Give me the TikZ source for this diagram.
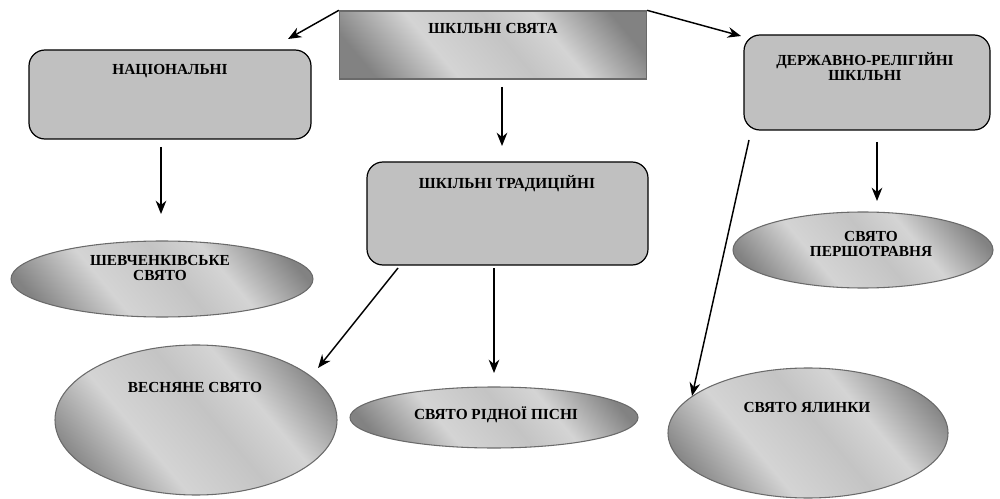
\documentclass[tikz,border=0pt]{standalone}
\usepackage{fontspec}
\setmainfont{Liberation Serif}
\usetikzlibrary{shapes.geometric,arrows.meta}
\definecolor{boxgray}{HTML}{C0C0C0}
\definecolor{metdark}{HTML}{828282}
\definecolor{metlight}{HTML}{D4D4D4}
\definecolor{metmid}{HTML}{C4C4C4}
\definecolor{edgegray}{HTML}{6A6A6A}
\pgfdeclarehorizontalshading{chrome}{100bp}{color(0bp)=(metdark); color(22bp)=(metdark); color(38bp)=(metlight); color(53bp)=(metmid); color(63bp)=(metlight); color(78bp)=(metdark); color(100bp)=(metdark)}
\tikzset{
  metal/.style={shading=chrome, shading angle=40},
  topbox/.style={rectangle, metal, draw=edgegray, line width=1pt, inner sep=0pt},
  rbox/.style={rectangle, rounded corners=12pt, fill=boxgray, draw=black, line width=0.9pt, inner sep=0pt},
  oval/.style={ellipse, metal, draw=edgegray, line width=0.8pt, inner sep=0pt},
  lbl/.style={font=\fontsize{11.5}{11.8}\selectfont\bfseries, align=center, inner sep=0pt},
  arr/.style={-{Stealth[length=10pt,width=8pt]}, line width=1.1pt, black}
}
\begin{document}
\begin{tikzpicture}[x=0.75pt,y=-0.75pt]
\useasboundingbox (0,0) rectangle (1000,499);
% shapes
\node[topbox, minimum width=307*0.75pt, minimum height=68*0.75pt] (top) at (493,45) {};
\node[rbox, minimum width=282*0.75pt, minimum height=89*0.75pt] (nat) at (170,94.5) {};
\node[rbox, minimum width=246*0.75pt, minimum height=95*0.75pt] (der) at (867,82.5) {};
\node[rbox, minimum width=281*0.75pt, minimum height=103*0.75pt] (trad) at (507.5,213.5) {};
\node[oval, minimum width=302*0.75pt, minimum height=76*0.75pt] (shev) at (162,279) {};
\node[oval, minimum width=260*0.75pt, minimum height=76*0.75pt] (persh) at (863,250) {};
\node[oval, minimum width=282*0.75pt, minimum height=150*0.75pt] (vesn) at (196,420) {};
\node[oval, minimum width=288*0.75pt, minimum height=61*0.75pt] (ridn) at (494,417.5) {};
\node[oval, minimum width=280*0.75pt, minimum height=130*0.75pt] (yal) at (808,433) {};
% labels
\node[lbl] (ttop) at (493,29) {ШКІЛЬНІ СВЯТА};
\node[lbl] (tnat) at (170,71) {НАЦІОНАЛЬНІ};
\node[lbl] (tder) at (865,66.5) {ДЕРЖАВНО-РЕЛІГІЙНІ\\ШКІЛЬНІ};
\node[lbl] (ttrad) at (507,184) {ШКІЛЬНІ ТРАДИЦІЙНІ};
\node[lbl] (tshev) at (160,268) {ШЕВЧЕНКІВСЬКЕ\\СВЯТО};
\node[lbl] (tpersh) at (871,244) {СВЯТО\\ПЕРШОТРАВНЯ};
\node[lbl] (tvesn) at (195,387) {ВЕСНЯНЕ СВЯТО};
\node[lbl] (tridn) at (496,415) {СВЯТО РІДНОЇ ПІСНІ};
\node[lbl] (tyal) at (807,407) {СВЯТО ЯЛИНКИ};
% connector ends
\coordinate (e1) at (288,39);
\coordinate (e2) at (741,36);
\coordinate (s3) at (502,87);
\coordinate (e3) at (502,146);
\coordinate (s4) at (161,147);
\coordinate (e4) at (161,214);
\coordinate (s5) at (877,142);
\coordinate (e5) at (877,201);
\coordinate (s6) at (398,268);
\coordinate (e6) at (318,368);
\coordinate (s7) at (494,268);
\coordinate (e7) at (494,373);
\coordinate (s8) at (749,140);
\coordinate (e8) at (692,396);
% connectors
\draw[arr] (top.north west) -- (e1);
\draw[arr] (top.north east) -- (e2);
\draw[arr] (s3) -- (e3);
\draw[arr] (s4) -- (e4);
\draw[arr] (s5) -- (e5);
\draw[arr] (s6) -- (e6);
\draw[arr] (s7) -- (e7);
\draw[arr] (s8) -- (e8);
\end{tikzpicture}
\end{document}
